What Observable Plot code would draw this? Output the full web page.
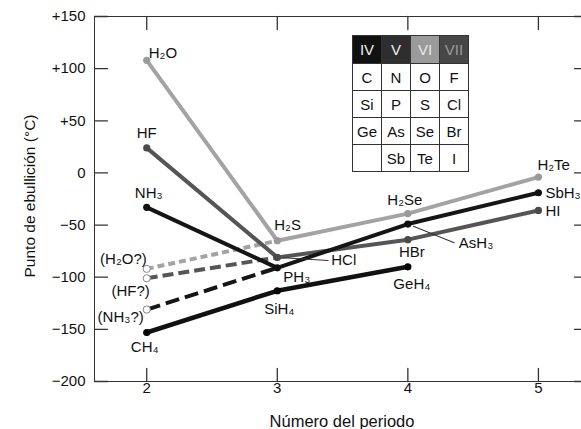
<!DOCTYPE html>
<html><head><meta charset="utf-8">
<script src="https://cdn.jsdelivr.net/npm/d3@7"></script>
<script src="https://cdn.jsdelivr.net/npm/@observablehq/plot@0.6"></script>
<style>
body{margin:0;background:#fff;}
#wrap{position:relative;width:581px;height:429px;font-family:"Liberation Sans",Arial,sans-serif;}
#tbl{position:absolute;left:352px;top:35px;border-collapse:collapse;font-size:15px;font-family:"Liberation Sans",Arial,sans-serif;}
#tbl td{border:1px solid #333;width:28px;height:26px;text-align:center;padding:0;color:#111;}
</style></head><body><div id="wrap"></div>
<script>
// ---- data ----
const periods = [2, 3, 4, 5];
const xTicks = [2, 3, 4, 5];
const yTicks = [150, 100, 50, 0, -50, -100, -150, -200];

const namesIV = ["CH₄", "SiH₄", "GeH₄"];
const bpIV = [-153, -113, -90];
const namesV = ["NH₃", "PH₃", "AsH₃", "SbH₃"];
const bpV = [-33, -91, -49, -19];
const namesVI = ["H₂O", "H₂S", "H₂Se", "H₂Te"];
const bpVI = [108, -65, -39, -4];
const namesVII = ["HF", "HCl", "HBr", "HI"];
const bpVII = [24, -81, -64, -36];

const guessNames = ["(H₂O?)", "(HF?)", "(NH₃?)"];
const guessGroups = ["VI", "VII", "V"];
const guessBp = [-92, -101, -131];

const tableHeader = ["IV", "V", "VI", "VII"];
const tableRows = [["C","N","O","F"],["Si","P","S","Cl"],["Ge","As","Se","Br"],["","Sb","Te","I"]];

// ---- styles / layout ----
const lineColor = {IV: "#111", V: "#151515", VI: "#a3a3a3", VII: "#555"};
const dotColor = {IV: "#000", V: "#111", VI: "#999", VII: "#4a4a4a"};
const dashes = {VI: "7,4", VII: "11,5", V: "14,6"};
const headerStyle = {IV: ["#111", "#eee"], V: ["#2e2e2e", "#eee"], VI: ["#9a9a9a", "#e6e6e6"], VII: ["#474747", "#9a9a9a"]};
const place = {
  "H₂O": ["start", 2, -7], "HF": ["middle", 0, -15], "NH₃": ["middle", 2, -14], "CH₄": ["middle", -2, 15],
  "H₂S": ["start", -3, -16], "HCl": ["start", 54, 3], "PH₃": ["start", 6, 9], "SiH₄": ["middle", 2, 18],
  "H₂Se": ["middle", -3, -13], "HBr": ["middle", 4, 13], "GeH₄": ["middle", 4, 17], "AsH₃": ["start", 51, 19],
  "H₂Te": ["start", -1, -12], "SbH₃": ["start", 7, 0], "HI": ["start", 7, 1],
  "(H₂O?)": ["end", 0, -10], "(HF?)": ["end", 3, 13], "(NH₃?)": ["end", -3, 8]
};
const leaders = [{name: "HCl", len: 51, rot: 93.4}, {name: "AsH₃", len: 50, rot: 112}];

// ---- build tables ----
const rows = [];
function addGroup(g, names, values) {
  names.forEach((n, i) => rows.push({group: g, name: n, period: periods[i], bp: values[i]}));
}
addGroup("IV", namesIV, bpIV);
addGroup("V", namesV, bpV);
addGroup("VI", namesVI, bpVI);
addGroup("VII", namesVII, bpVII);
const guesses = guessNames.map((n, i) => {
  const target = rows.find(r => r.group === guessGroups[i] && r.period === 3);
  return {name: n, group: guessGroups[i], period: 2, bp: guessBp[i], tPeriod: target.period, tBp: target.bp};
});

const tickShape = {draw(ctx, l) { ctx.moveTo(0, 0); ctx.lineTo(0, -l); }};
const leaderShape = {draw(ctx, l) { ctx.moveTo(0, -6); ctx.lineTo(0, -l); }};
const fmt = d => d > 0 ? "+" + d : d < 0 ? "−" + (-d) : "0";

const marks = [];
marks.push(Plot.frame({anchor: "top", stroke: "#333"}));
marks.push(Plot.frame({anchor: "bottom", stroke: "#333"}));
marks.push(Plot.frame({anchor: "left", stroke: "#333"}));
marks.push(Plot.vector(xTicks, {x: d => d, frameAnchor: "bottom", length: 13, rotate: 0, anchor: "start", shape: tickShape, stroke: "#333", strokeWidth: 1.3}));
marks.push(Plot.vector(xTicks, {x: d => d, frameAnchor: "top", length: 13, rotate: 180, anchor: "start", shape: tickShape, stroke: "#333", strokeWidth: 1.3}));
marks.push(Plot.vector(yTicks, {y: d => d, frameAnchor: "left", length: 13, rotate: 90, anchor: "start", shape: tickShape, stroke: "#333", strokeWidth: 1.3}));
marks.push(Plot.vector(yTicks, {y: d => d, frameAnchor: "right", length: 7, rotate: -90, anchor: "start", shape: tickShape, stroke: "#333", strokeWidth: 1.3}));
marks.push(Plot.axisX({ticks: xTicks, tickSize: 0, tickPadding: 1, tickFormat: d => String(d), label: null, fill: "#111"}));
marks.push(Plot.axisY({ticks: yTicks, tickSize: 0, tickPadding: 9, tickFormat: fmt, label: null, fill: "#111"}));
marks.push(Plot.text(["Número del periodo"], {frameAnchor: "bottom", lineAnchor: "middle", textAnchor: "middle", dx: 4, dy: 40, fontSize: 16.5, fill: "#111"}));
marks.push(Plot.text(["Punto de ebullición (°C)"], {frameAnchor: "left", textAnchor: "middle", lineAnchor: "middle", dx: -64, dy: -3, rotate: -90, fontSize: 15.5, fill: "#111"}));

for (const g of ["VI", "VII", "V", "IV"]) {
  const gr = guesses.filter(d => d.group === g);
  if (gr.length) marks.push(Plot.link(gr, {x1: "period", y1: "bp", x2: "tPeriod", y2: "tBp", stroke: lineColor[g], strokeWidth: 4, strokeDasharray: dashes[g]}));
}
for (const g of ["VI", "VII", "V", "IV"]) {
  marks.push(Plot.line(rows.filter(d => d.group === g), {x: "period", y: "bp", stroke: lineColor[g], strokeWidth: g === "IV" ? 4.5 : 4}));
}
for (const g of ["VI", "VII", "V", "IV"]) {
  marks.push(Plot.dot(rows.filter(d => d.group === g), {x: "period", y: "bp", r: 3.6, fill: dotColor[g]}));
}
marks.push(Plot.dot(guesses, {x: "period", y: "bp", r: 3.6, fill: "white", stroke: "#888", strokeWidth: 1}));
for (const lf of leaders) {
  marks.push(Plot.vector(rows.filter(d => d.name === lf.name), {x: "period", y: "bp", length: lf.len, rotate: lf.rot, anchor: "start", shape: leaderShape, stroke: "#333", strokeWidth: 1}));
}
for (const d of [...rows, ...guesses]) {
  const [ta, dx, dy] = place[d.name];
  marks.push(Plot.text([d], {x: "period", y: "bp", text: "name", textAnchor: ta, dx, dy, fontSize: 15, fill: "#111"}));
}

const chart = Plot.plot({
  width: 581, height: 429,
  marginLeft: 94, marginRight: 0, marginTop: 16, marginBottom: 48,
  style: {fontFamily: '"Liberation Sans", Arial, sans-serif', fontSize: "15px", background: "white"},
  x: {domain: [1.6, 5.33], label: null},
  y: {domain: [-200, 150], label: null},
  marks
});
const wrap = document.getElementById("wrap");
wrap.append(chart);

const table = document.createElement("table");
table.id = "tbl";
const hr = document.createElement("tr");
tableHeader.forEach(h => {
  const td = document.createElement("td");
  td.textContent = h;
  td.style.background = headerStyle[h][0];
  td.style.color = headerStyle[h][1];
  td.style.height = "27px";
  hr.append(td);
});
table.append(hr);
tableRows.forEach(r => {
  const tr = document.createElement("tr");
  r.forEach(c => { const td = document.createElement("td"); td.textContent = c; tr.append(td); });
  table.append(tr);
});
wrap.append(table);
</script></body></html>
